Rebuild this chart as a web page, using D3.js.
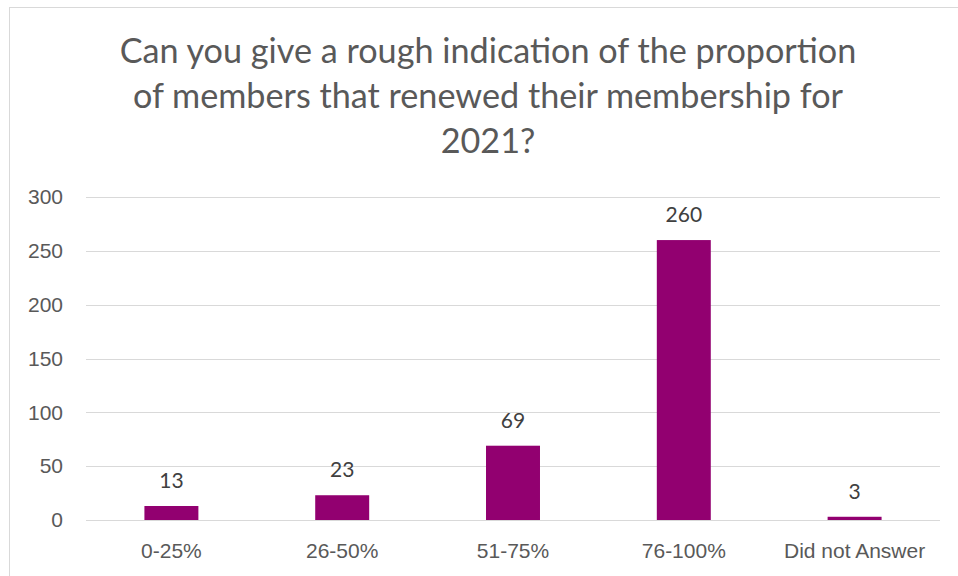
<!DOCTYPE html>
<html>
<head>
<meta charset="utf-8">
<script src="https://cdn.jsdelivr.net/npm/d3@7"></script>
<style>
  body { margin: 0; background: #fff; }
  svg { display: block; font-family: Lato, "Open Sans", sans-serif; }
</style>
</head>
<body>
<div id="app"></div>
<script>
const titleLines = ['Can you give a rough indication of the proportion', 'of members that renewed their membership for', '2021?'];
const categories = ['0-25%', '26-50%', '51-75%', '76-100%', 'Did not Answer'];
const values = [13, 23, 69, 260, 3];
const yTicks = [0, 50, 100, 150, 200, 250, 300];

const W = 958, H = 576;
const svg = d3.select('#app').append('svg').attr('width', W).attr('height', H);

// chart border (runs off right / bottom edge like the screenshot)
svg.append('rect')
  .attr('x', 9.5).attr('y', 7.5).attr('width', 970).attr('height', 600)
  .attr('fill', '#fff').attr('stroke', '#d9d9d9');

const plotL = 86, plotR = 940, plotT = 197, plotB = 520;

const x = d3.scaleBand().domain(categories).range([plotL, plotR])
  .paddingInner(0.684).paddingOuter(0.342);
const y = d3.scaleLinear().domain([0, 300]).range([plotB, plotT]);

// title
svg.append('g').selectAll('text').data(titleLines).enter().append('text')
  .attr('x', 488).attr('y', (d, i) => 63 + i * 45)
  .attr('text-anchor', 'middle')
  .attr('font-size', 34.2).attr('fill', '#595959')
  .text(d => d);

// gridlines
svg.append('g').selectAll('line').data(yTicks).enter().append('line')
  .attr('x1', plotL).attr('x2', plotR)
  .attr('y1', d => Math.round(y(d)) + 0.5).attr('y2', d => Math.round(y(d)) + 0.5)
  .attr('stroke', '#d9d9d9').attr('stroke-width', 1);

// y labels
const yAxis = d3.axisLeft(y).tickValues(yTicks).tickSize(0).tickPadding(0);
const ya = svg.append('g').attr('transform', 'translate(63,0)').call(yAxis);
ya.select('.domain').remove();
ya.selectAll('text').attr('font-family', null).attr('font-size', 21).attr('fill', '#595959');

// bars
svg.append('g').selectAll('rect').data(values).enter().append('rect')
  .attr('x', (d, i) => x(categories[i]))
  .attr('y', d => y(d))
  .attr('width', x.bandwidth())
  .attr('height', d => plotB - y(d))
  .attr('fill', '#920070');

// data labels
svg.append('g').selectAll('text').data(values).enter().append('text')
  .attr('x', (d, i) => x(categories[i]) + x.bandwidth() / 2)
  .attr('y', d => y(d) - 18)
  .attr('text-anchor', 'middle')
  .attr('font-size', 21).attr('fill', '#404040')
  .text(d => d);

// x labels
const xAxis = d3.axisBottom(x).tickSize(0).tickPadding(0);
const xa = svg.append('g').attr('transform', 'translate(0,' + plotB + ')').call(xAxis);
xa.select('.domain').remove();
xa.selectAll('text').attr('font-family', null).attr('font-size', 21).attr('fill', '#595959')
  .attr('dy', null).attr('y', 38);
</script>
</body>
</html>
